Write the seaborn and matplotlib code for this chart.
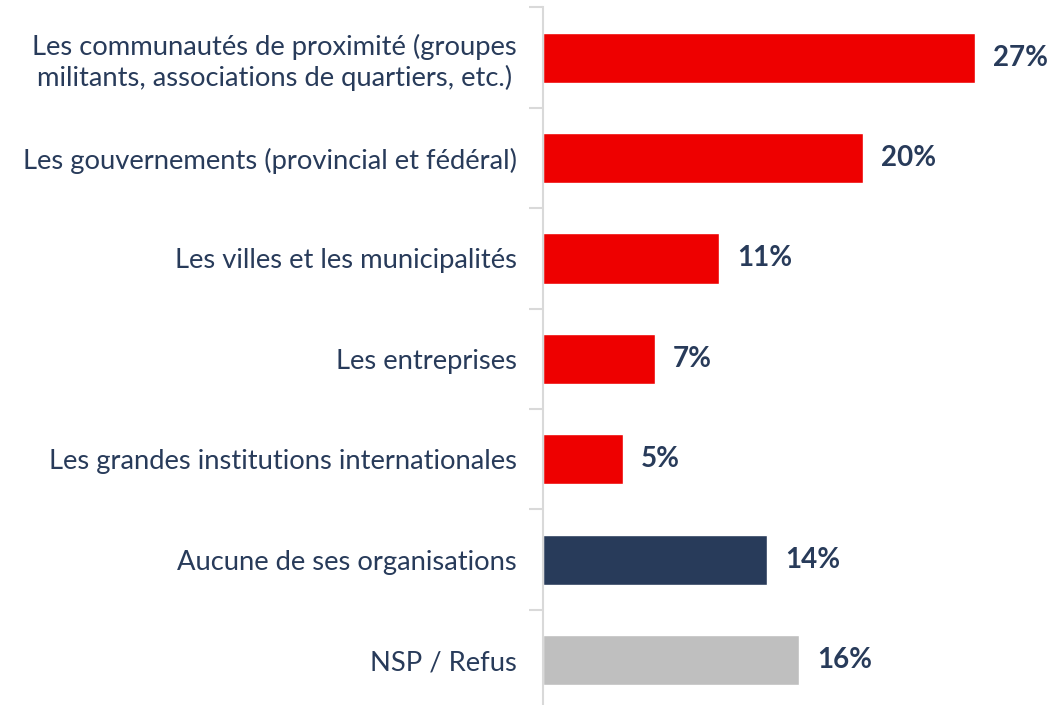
import pandas as pd
import seaborn as sns
import matplotlib.pyplot as plt
from matplotlib.ticker import FixedLocator

# data
categories = [
    "Les communautés de proximité (groupes\nmilitants, associations de quartiers, etc.)",
    "Les gouvernements (provincial et fédéral)",
    "Les villes et les municipalités",
    "Les entreprises",
    "Les grandes institutions internationales",
    "Aucune de ses organisations",
    "NSP / Refus",
]
values = [27, 20, 11, 7, 5, 14, 16]
bar_colors = ["#EE0000", "#EE0000", "#EE0000", "#EE0000", "#EE0000", "#283B5A", "#BFBFBF"]

df = pd.DataFrame({"Categorie": categories, "Pourcentage": values})

sns.set_style("white")
plt.rcParams["font.family"] = ["Lato", "DejaVu Sans"]
navy = "#283B5A"

fig = plt.figure(figsize=(10.64, 7.05), dpi=100)
ax = fig.add_axes([0.5103, -0.0075, 0.481, 0.997])

sns.barplot(data=df, y="Categorie", x="Pourcentage", hue="Categorie",
            palette=bar_colors, legend=False, width=0.5, saturation=1, ax=ax)

for cont in ax.containers:
    ax.bar_label(cont, fmt="%d%%", padding=13, fontsize=20, fontweight="bold", color=navy)

ax.set_xlim(0, 32)
ax.set_ylim(len(categories) - 0.5, -0.5)
ax.set_xlabel("")
ax.set_ylabel("")
ax.set_xticks([])
ax.tick_params(axis="y", which="major", left=False, length=0, pad=19, labelsize=19.7, labelcolor=navy)
ax.yaxis.set_minor_locator(FixedLocator([i - 0.5 for i in range(len(categories) + 1)]))
ax.tick_params(axis="y", which="minor", left=True, length=10, width=1.5, color="#D9D9D9")
for lbl in ax.get_yticklabels():
    lbl.set_horizontalalignment("right")
    lbl.set_multialignment("center")
    lbl.set_linespacing(1.25)

for side in ["top", "right", "bottom"]:
    ax.spines[side].set_visible(False)
ax.spines["left"].set_color("#D9D9D9")
ax.spines["left"].set_linewidth(1.5)

fig.savefig("out.png", dpi=100)
